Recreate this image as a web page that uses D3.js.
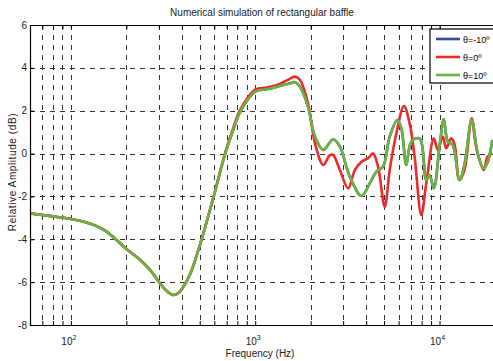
<!DOCTYPE html>
<html>
<head>
<meta charset="utf-8">
<script src="https://cdn.jsdelivr.net/npm/d3@7"></script>
<style>
  body { margin: 0; background: #fff; }
  svg { display: block; font-family: "Liberation Sans Narrow", "Liberation Sans", Arial, sans-serif; }
  .grid line { stroke: #333; stroke-width: 1; stroke-dasharray: 5,5; shape-rendering: crispEdges; }
  .curve { fill: none; stroke-width: 2.6; stroke-linejoin: round; }
</style>
</head>
<body>
<script>
(function() {
    // chart data (frequency in Hz, relative amplitude in dB)
    var seriesNames = ["θ=-10º", "θ=0º", "θ=10º"];
    var seriesColors = ["#2b4ea2", "#ee2a2a", "#6cb33f"];

    var lowFreq = [[60,-2.79],[78,-2.92],[100,-3.05],[120,-3.2],[136,-3.36],[155,-3.62],[175,-4.0],[200,-4.45],
        [233,-4.9],[270,-5.45],[300,-5.98],[330,-6.4],[360,-6.6],[384,-6.5],[403,-6.29],[445,-5.6],[504,-4.2],[593,-2.05]];

    var side = lowFreq.concat([[688,0.01],[760,1.1],[830,1.96],[1000,2.89],[1150,3.0],[1315,3.12],[1546,3.28],[1645,3.33],
        [1751,3.12],[1934,2.19],[2110,0.79],[2341,0.17],[2650,0.67],[2880,0.32],[3263,-1.08],[3775,-1.98],[4184,-1.39],
        [4548,-0.84],[4938,-0.61],[5367,0.79],[5906,1.57],[6209,1.18],[6607,-0.53],[7031,0.56],[7797,0.71],[8474,-1.23],
        [8829,-1.0],[9316,-1.62],[10000,0.32],[10549,1.6],[11088,0.56],[11801,0.4],[12830,-1.23],[13652,-0.53],
        [14950,1.57],[16106,0.01],[17360,-0.69],[18245,-0.4],[19340,0.63]]);

    var center = lowFreq.concat([[688,0.05],[760,1.2],[830,2.05],[1000,2.99],[1150,3.08],[1315,3.2],[1546,3.5],[1645,3.59],
        [1751,3.43],[1934,2.35],[2110,0.48],[2341,-0.53],[2543,-0.07],[2650,-0.07],[2880,-0.77],[3194,-1.62],[3471,-0.77],
        [3775,-0.38],[4097,-0.22],[4360,0.01],[4640,-0.61],[5043,-2.48],[5367,-0.77],[5833,0.95],[6412,2.22],[6884,1.41],
        [7326,-0.14],[7962,-2.87],[8474,-1.39],[9316,0.71],[9790,0.17],[10419,0.79],[10869,0.25],[11567,0.71],
        [12052,0.45],[12830,-1.23],[13652,-0.77],[14950,1.65],[15790,0.32],[17360,-0.77],[18245,-0.14],[19340,0.01]]);

    var seriesData = [side, center, side];

    var xGridTicks = [70,80,90,100,200,300,400,500,600,700,800,900,1000,2000,3000,4000,5000,6000,7000,8000,9000,10000,20000];
    var xLabelTicks = [100, 1000, 10000];
    var yTicks = [-8,-6,-4,-2,0,2,4,6];

    // layout
    var W = 493, H = 361;
    var m = { left: 30, top: 25, right: 495, bottom: 325 };

    var svg = d3.select("body").append("svg").attr("width", W).attr("height", H);

    var x = d3.scaleLog().domain([60, 20000]).range([m.left, m.right]);
    var y = d3.scaleLinear().domain([-8, 6]).range([m.bottom, m.top]);

    svg.append("clipPath").attr("id", "plot")
        .append("rect").attr("x", m.left).attr("y", m.top)
        .attr("width", m.right - m.left).attr("height", m.bottom - m.top);

    // grid
    var grid = svg.append("g").classed("grid", true);
    grid.selectAll(".vx").data(xGridTicks).enter().append("line")
        .attr("x1", function(d) { return Math.round(x(d)) + 0.5; })
        .attr("x2", function(d) { return Math.round(x(d)) + 0.5; })
        .attr("y1", m.top).attr("y2", m.bottom);
    grid.selectAll(".hy").data(yTicks.slice(1, -1)).enter().append("line")
        .attr("y1", function(d) { return Math.round(y(d)) + 0.5; })
        .attr("y2", function(d) { return Math.round(y(d)) + 0.5; })
        .attr("x1", m.left).attr("x2", m.right);

    // curves
    var line = d3.line()
        .x(function(d) { return x(d[0]); })
        .y(function(d) { return y(d[1]); })
        .curve(d3.curveCatmullRom.alpha(0.5));

    svg.append("g").attr("clip-path", "url(#plot)")
        .selectAll("path").data(seriesData).enter().append("path")
        .classed("curve", true)
        .attr("stroke", function(d, i) { return seriesColors[i]; })
        .attr("d", line);

    // axes frame
    var xAxis = d3.axisBottom(x).tickValues(xGridTicks).tickSize(-4).tickFormat("");
    svg.append("g").attr("transform", "translate(0," + m.bottom + ")").call(xAxis)
        .call(function(g) { g.select(".domain").attr("stroke-width", 1.2); });
    var xTop = d3.axisTop(x).tickValues(xGridTicks).tickSize(-4).tickFormat("");
    svg.append("g").attr("transform", "translate(0," + m.top + ")").call(xTop);
    var yAxis = d3.axisLeft(y).tickValues(yTicks).tickSize(-4).tickFormat("");
    svg.append("g").attr("transform", "translate(" + m.left + ",0)").call(yAxis)
        .call(function(g) { g.select(".domain").attr("stroke-width", 1.2); });
    svg.selectAll(".domain").attr("stroke", "#000");
    svg.selectAll(".tick line").attr("stroke", "#000");

    // tick labels
    svg.selectAll(".ylab").data(yTicks).enter().append("text")
        .attr("x", m.left - 3).attr("y", function(d) { return y(d) + 3.5; })
        .attr("text-anchor", "end").attr("font-size", 10).attr("fill", "#222")
        .text(function(d) { return d; });

    var xl = svg.selectAll(".xlab").data(xLabelTicks).enter().append("text")
        .attr("x", function(d) { return x(d) - 2; }).attr("y", 345)
        .attr("text-anchor", "middle").attr("font-size", 10).attr("fill", "#222");
    xl.append("tspan").text("10");
    xl.append("tspan").attr("dy", -5).attr("font-size", 7)
        .text(function(d) { return Math.round(Math.log10(d)); });

    // titles
    svg.append("text").attr("x", 262).attr("y", 16).attr("text-anchor", "middle")
        .attr("font-size", 10).attr("fill", "#222").text("Numerical simulation of rectangular baffle");
    svg.append("text").attr("x", 260).attr("y", 357).attr("text-anchor", "middle")
        .attr("font-size", 10).attr("fill", "#222").text("Frequency (Hz)");
    svg.append("text").attr("transform", "translate(16,172) rotate(-90)")
        .attr("text-anchor", "middle").attr("font-size", 10).attr("letter-spacing", 0.6).attr("fill", "#222")
        .text("Relative Amplitude (dB)");

    // legend
    var lg = svg.append("g").attr("transform", "translate(430,29)");
    lg.append("rect").attr("width", 70).attr("height", 54)
        .attr("fill", "#fff").attr("stroke", "#000").attr("stroke-width", 1.2);
    var item = lg.selectAll(".item").data(seriesNames).enter().append("g")
        .attr("transform", function(d, i) { return "translate(0," + (10 + i * 18) + ")"; });
    item.append("line").attr("x1", 6).attr("x2", 30).attr("y1", 0).attr("y2", 0)
        .attr("stroke-width", 2.6)
        .attr("stroke", function(d, i) { return seriesColors[i]; });
    item.append("text").attr("x", 33).attr("y", 3.5).attr("font-size", 9)
        .text(function(d) { return d; });
})();
</script>
</body>
</html>
